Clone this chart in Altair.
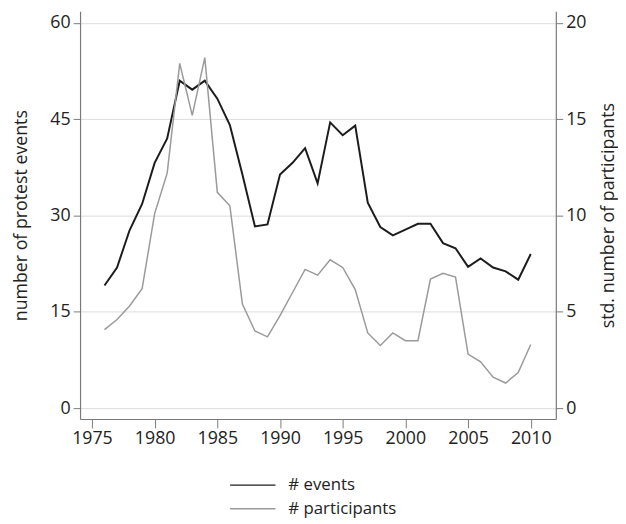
import altair as alt
import pandas as pd

years = list(range(1976, 2011))
events = [19.1, 21.9, 27.7, 31.8, 38.2, 42.0, 51.0, 49.6, 51.0, 48.2,
          44.1, 36.4, 28.3, 28.6, 36.4, 38.2, 40.5, 35.0, 44.5, 42.5,
          44.0, 32.0, 28.2, 26.9, 27.8, 28.7, 28.7, 25.7, 24.9, 22.0,
          23.3, 21.9, 21.3, 20.0, 24.0]
participants = [4.07, 4.6, 5.3, 6.2, 10.1, 12.2, 17.9, 15.2, 18.2, 11.2,
                10.5, 5.4, 4.0, 3.7, 4.8, 6.0, 7.2, 6.9, 7.7, 7.3,
                6.15, 3.9, 3.25, 3.9, 3.5, 3.5, 6.7, 7.0, 6.8, 2.8,
                2.4, 1.6, 1.3, 1.85, 3.3]
x_ticks = [1975, 1980, 1985, 1990, 1995, 2000, 2005, 2010]
left_ticks = [0, 15, 30, 45, 60]
right_ticks = [0, 5, 10, 15, 20]
series_names = ["# events", "# participants"]
series_colors = ["#1c1c1c", "#9a9a9a"]

df = pd.DataFrame({"year": years, "events": events, "participants": participants})

FONT = "Open Sans"
TXT = "#222222"
AX = "#7a7a7a"

x = alt.X(
    "year:Q",
    scale=alt.Scale(domain=[1974.05, 2012.0], nice=False, zero=False),
    axis=alt.Axis(values=x_ticks, format="d", title=None, grid=False,
                  tickSize=9, labelPadding=2),
)
color = alt.Color(
    "series:N",
    scale=alt.Scale(domain=series_names, range=series_colors),
    legend=alt.Legend(
        title=None, orient="none", legendX=151, legendY=468,
        direction="vertical", symbolType="stroke", symbolSize=2116,
        symbolStrokeWidth=1.5, labelFontSize=17, labelFont=FONT,
        labelColor=TXT, clipHeight=24, rowPadding=0, padding=0,
        labelOffset=12,
    ),
)

l1 = alt.Chart(df).transform_calculate(series='"# events"').mark_line(
    strokeWidth=2
).encode(
    x=x,
    y=alt.Y("events:Q",
            scale=alt.Scale(domain=[-1.7, 61.8], nice=False, zero=False),
            axis=alt.Axis(orient="left", values=left_ticks, grid=True,
                          gridColor="#dcdcdc", title="number of protest events",
                          tickSize=7, labelPadding=3, titlePadding=20)),
    color=color,
)
l2 = alt.Chart(df).transform_calculate(series='"# participants"').mark_line(
    strokeWidth=1.5
).encode(
    x=x,
    y=alt.Y("participants:Q",
            scale=alt.Scale(domain=[-0.567, 20.6], nice=False, zero=False),
            axis=alt.Axis(orient="right", values=right_ticks, grid=False,
                          title="std. number of participants", titleAngle=270,
                          titleBaseline="top",
                          tickSize=7, labelPadding=3, titlePadding=14)),
    color=color,
)

chart = alt.layer(l1, l2).resolve_scale(y="independent").properties(
    width=482, height=413,
    autosize=alt.AutoSizeParams(type="none"),
    padding={"left": 73, "top": 0, "right": 63, "bottom": 103},
).configure_view(stroke=None).configure_axis(
    labelFont=FONT, titleFont=FONT, labelFontSize=18, titleFontSize=18,
    titleFontWeight="normal", labelColor=TXT, titleColor=TXT,
    domainColor=AX, tickColor=AX, domainWidth=1.2,
)

chart.save("out.html", embed_options={"renderer": "svg", "actions": False})
